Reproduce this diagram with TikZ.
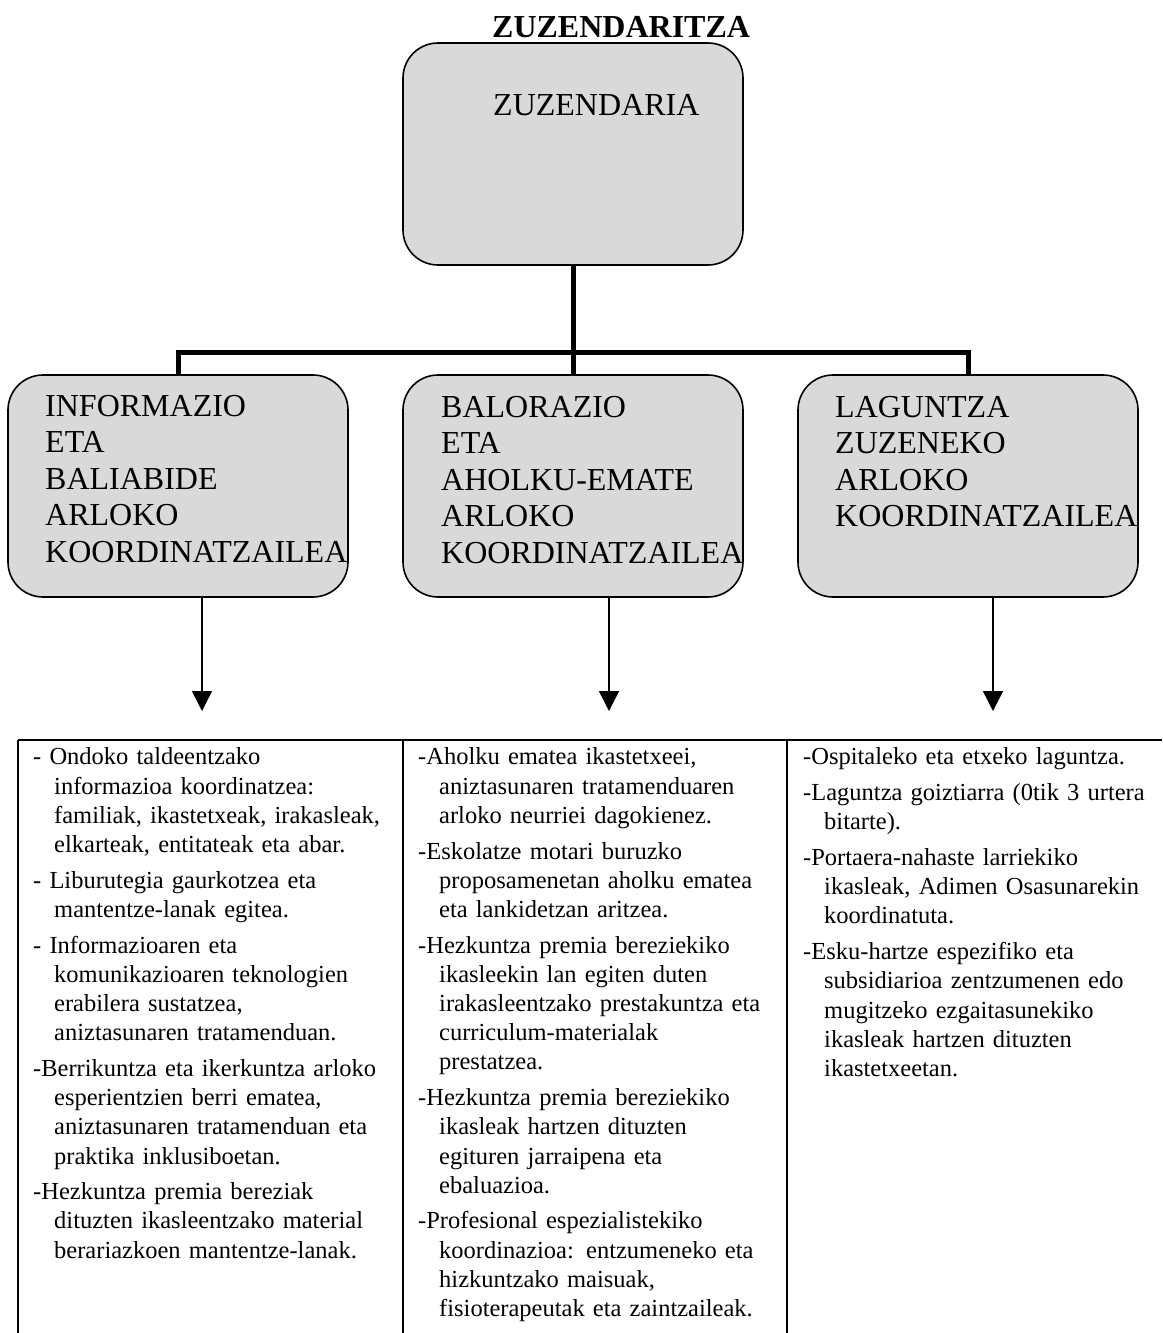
\documentclass[tikz,border=0pt]{standalone}
\usepackage{fontspec}
\setmainfont{Liberation Serif}
\usetikzlibrary{arrows.meta,positioning}
\newcommand{\tableTop}{740}
\newcommand{\tableBottom}{1333}
\newcommand{\boxWidth}{340pt}
\newcommand{\boxHeight}{222pt}
\newcommand{\boxFont}{\fontsize{32}{36.5}\selectfont}
\newcommand{\listFont}{\fontsize{24.5}{29.2}\selectfont}
\newcommand{\duty}[1]{\par\hangindent=21pt\hangafter=1 #1}

\begin{document}
\begin{tikzpicture}[x=1pt,y=-1pt,
    office/.style={draw,line width=1.6pt,fill=black!15,rounded corners=35pt,inner sep=0pt,
      minimum width=\boxWidth,minimum height=\boxHeight},
    boxtext/.style={inner sep=0pt,align=left,font=\boxFont},
    tree/.style={line width=5pt},
    pointer/.style={line width=1.4pt,-{Triangle[width=20pt,length=20pt]}},
    tableline/.style={line width=2pt},
    duties/.style={anchor=north west,inner sep=0pt,text width=360pt,align=left,font=\listFont}]
\useasboundingbox (0,0) rectangle (1162,1333);

% zuzendaritza
\node[boxtext,anchor=base west,font=\boxFont\bfseries] (title) at (492,37) {ZUZENDARITZA};
\node[office] (dir) at (573,154) {};
\node[boxtext,anchor=base west] (dirtext) at (493,115) {ZUZENDARIA};

% arloko koordinatzaileak
\node[office] (info) at (178,486) {};
\node[office] (bal) at (573,486) {};
\node[office] (lag) at (968,486) {};
\node[boxtext,anchor=north west] (infotext) at (45,395)
  {INFORMAZIO\\ETA\\BALIABIDE\\ARLOKO\\KOORDINATZAILEA};
\node[boxtext,anchor=north west] (baltext) at (441,396)
  {BALORAZIO\\ETA\\AHOLKU-EMATE\\ARLOKO\\KOORDINATZAILEA};
\node[boxtext,anchor=north west] (lagtext) at (835,396)
  {LAGUNTZA\\ZUZENEKO\\ARLOKO\\KOORDINATZAILEA};

\coordinate (fork) at (573,352);
\draw[tree] (dir.south) -- (bal.north);
\draw[tree] (info.north) |- (fork) -| (lag.north);

\coordinate (tipA) at (202,711);
\coordinate (tipB) at (609,711);
\coordinate (tipC) at (993,711);
\draw[pointer] (info.south -| tipA) -- (tipA);
\draw[pointer] (bal.south -| tipB) -- (tipB);
\draw[pointer] (lag.south -| tipC) -- (tipC);

% taula
\draw[tableline] (18,\tableTop) -- (1162,\tableTop);
\foreach \colX in {18,403,787}
  \draw[tableline] (\colX,\tableTop) -- (\colX,\tableBottom);

\node[duties] (infolist) at (33,729) {\setlength{\parskip}{6.5pt}%
  \duty{- Ondoko taldeentzako\newline informazioa koordinatzea:\newline familiak, ikastetxeak, irakasleak,\newline elkarteak, entitateak eta abar.}
  \duty{- Liburutegia gaurkotzea eta\newline mantentze-lanak egitea.}
  \duty{- Informazioaren eta\newline komunikazioaren teknologien\newline erabilera sustatzea,\newline aniztasunaren tratamenduan.}
  \duty{-Berrikuntza eta ikerkuntza arloko\newline esperientzien berri ematea,\newline aniztasunaren tratamenduan eta\newline praktika inklusiboetan.}
  \duty{-Hezkuntza premia bereziak\newline dituzten ikasleentzako material\newline berariazkoen mantentze-lanak.}\par};

\node[duties] (ballist) at (418,729) {\setlength{\parskip}{6.5pt}%
  \duty{-Aholku ematea ikastetxeei,\newline aniztasunaren tratamenduaren\newline arloko neurriei dagokienez.}
  \duty{-Eskolatze motari buruzko\newline proposamenetan aholku ematea\newline eta lankidetzan aritzea.}
  \duty{-Hezkuntza premia bereziekiko\newline ikasleekin lan egiten duten\newline irakasleentzako prestakuntza eta\newline curriculum-materialak\newline prestatzea.}
  \duty{-Hezkuntza premia bereziekiko\newline ikasleak hartzen dituzten\newline egituren jarraipena eta\newline ebaluazioa.}
  \duty{-Profesional espezialistekiko\newline koordinazioa: entzumeneko eta\newline hizkuntzako maisuak,\newline fisioterapeutak eta zaintzaileak.}\par};

\node[duties] (laglist) at (803,729) {\setlength{\parskip}{6.5pt}%
  \duty{-Ospitaleko eta etxeko laguntza.}
  \duty{-Laguntza goiztiarra (0tik 3 urtera\newline bitarte).}
  \duty{-Portaera-nahaste larriekiko\newline ikasleak, Adimen Osasunarekin\newline koordinatuta.}
  \duty{-Esku-hartze espezifiko eta\newline subsidiarioa zentzumenen edo\newline mugitzeko ezgaitasunekiko\newline ikasleak hartzen dituzten\newline ikastetxeetan.}\par};
\end{tikzpicture}
\end{document}
